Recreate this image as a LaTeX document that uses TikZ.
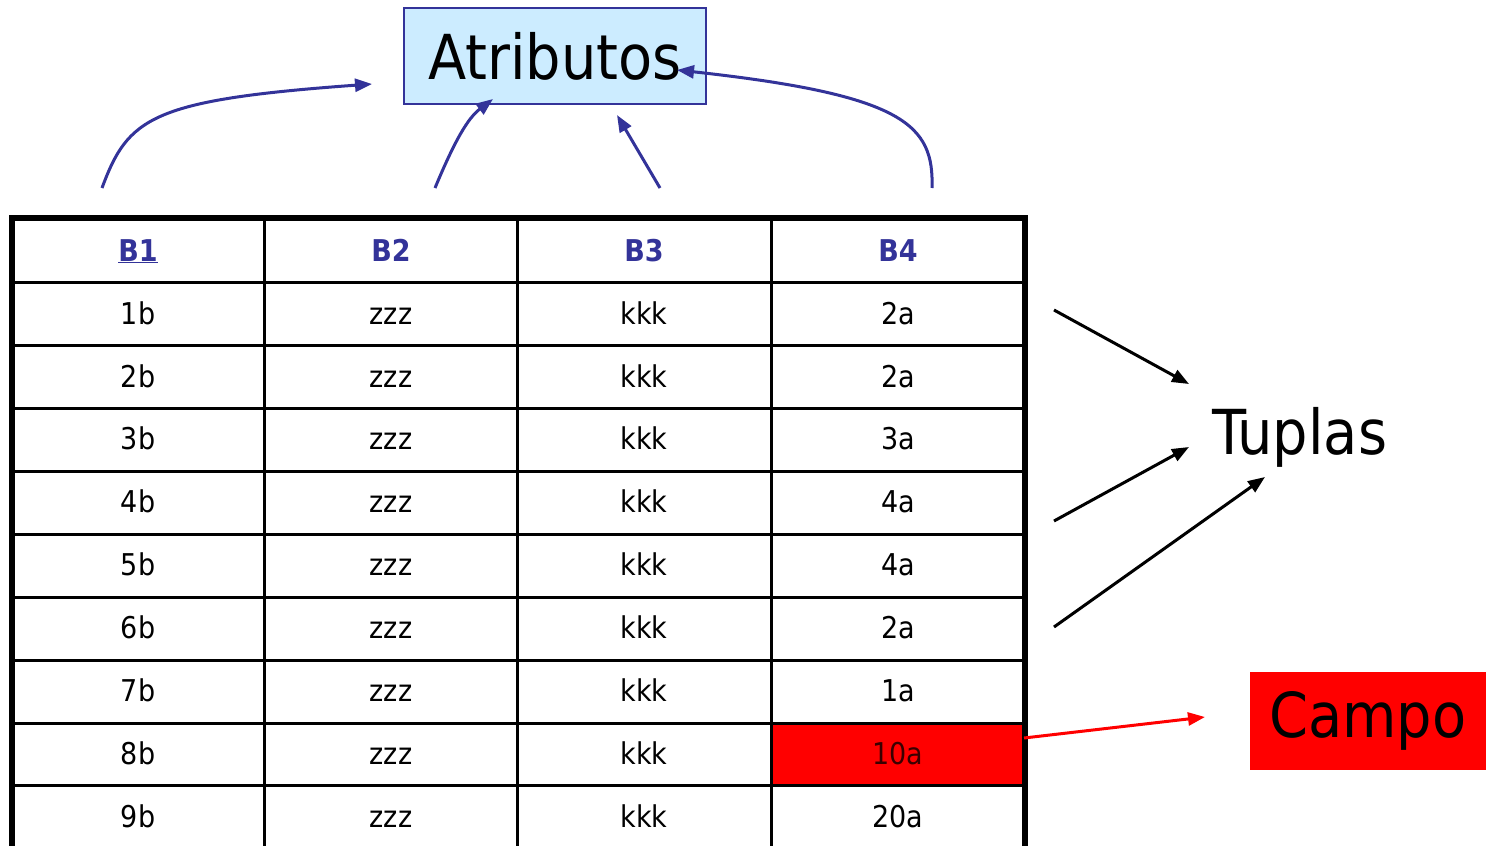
\documentclass[tikz,border=0pt]{standalone}
\usepackage{fontspec}
\setmainfont{DejaVu Sans Condensed}
\usetikzlibrary{arrows.meta}
\definecolor{navy}{HTML}{333399}
\definecolor{lightblue}{HTML}{CCECFF}
\definecolor{cellred}{HTML}{FF0000}
\definecolor{darkred}{HTML}{3A0000}
\tikzset{
  cell/.style={font=\fontsize{30}{36}\selectfont, text=black, inner sep=0pt, text height=22pt, text depth=0pt, anchor=center},
  head/.style={font=\fontsize{30}{36}\selectfont\bfseries, text=navy, inner sep=0pt, text height=22pt, text depth=0pt, anchor=center},
  thin/.style={line width=3pt, black},
  thick/.style={line width=5.5pt, black},
  battr/.style={navy, line width=3pt, -{Triangle[length=17pt,width=13pt]}},
  btup/.style={black, line width=3pt, -{Triangle[length=17pt,width=13pt]}},
  bred/.style={cellred, line width=3pt, -{Triangle[length=17pt,width=13pt]}},
}
\begin{document}
\begin{tikzpicture}[x=1pt,y=-1pt]
\useasboundingbox (0,0) rectangle (1486,846);
% red cell
\fill[cellred] (771,723) rectangle (1024,785);
% grid
\foreach \yy in {282,345,408,471,534,597,660,723,785} \draw[thin] (12,\yy) -- (1024,\yy);
\foreach \xx in {264,517,771} \draw[thin] (\xx,218) -- (\xx,850);
\draw[thick] (12,850) -- (12,218) -- (1025,218) -- (1025,850);
% header
\node[head] (h1) at (138,250) {\underline{B1}};
\node[head] (h2) at (391,250) {B2};
\node[head] (h3) at (644,250) {B3};
\node[head] (h4) at (898,250) {B4};
% body
\foreach \r/\yy/\a in {1/313/2a,2/376/2a,3/438/3a,4/501/4a,5/564/4a,6/627/2a,7/690/1a,9/816/20a}{
  \node[cell] (c\r a) at (138,\yy) {\r b};
  \node[cell] (c\r b) at (391,\yy) {zzz};
  \node[cell] (c\r c) at (644,\yy) {kkk};
  \node[cell] (c\r d) at (898,\yy) {\a};
}
\node[cell] (c8a) at (138,753) {8b};
\node[cell] (c8b) at (391,753) {zzz};
\node[cell] (c8c) at (644,753) {kkk};
\node[cell, text=darkred] (c8d) at (898,753) {10a};
% Atributos
\node[draw=navy, line width=2pt, fill=lightblue, minimum width=302pt, minimum height=96pt, inner sep=0pt,
      font=\fontsize{62}{70}\selectfont] (attr) at (555,56) {Atributos};
% Tuplas
\node[font=\fontsize{62}{70}\selectfont, inner sep=0pt] (tup) at (1300,437) {Tuplas};
% Campo
\node[fill=cellred, minimum width=236pt, minimum height=98pt, inner sep=0pt,
      font=\fontsize{62}{70}\selectfont] (campo) at (1368,721) {Campo};
% attribute arrow ends
\coordinate (s1) at (102,188);
\coordinate (e1) at (372,84);
\coordinate (s2) at (435,188);
\coordinate (e2) at (493,99);
\coordinate (s3) at (660,188);
\coordinate (e3) at (617,115);
\coordinate (s4) at (932,188);
\coordinate (e4) at (677,70);
\draw[battr] (s1) .. controls (128,118) and (150,100) .. (e1);
\draw[battr] (s2) .. controls (455,140) and (468,118) .. (e2);
\draw[battr] (s3) -- (e3);
\draw[battr] (s4) .. controls (934,125) and (905,95) .. (e4);
% tuplas arrows
\coordinate (t1s) at (1054,310);
\coordinate (t1e) at (1189,384);
\coordinate (t2s) at (1054,521);
\coordinate (t2e) at (1189,447);
\coordinate (t3s) at (1054,627);
\coordinate (t3e) at (1265,477);
\draw[btup] (t1s) -- (t1e);
\draw[btup] (t2s) -- (t2e);
\draw[btup] (t3s) -- (t3e);
% campo arrow
\coordinate (cs) at (1024,738);
\coordinate (ce) at (1205,717);
\draw[bred] (cs) -- (ce);
\end{tikzpicture}
\end{document}
